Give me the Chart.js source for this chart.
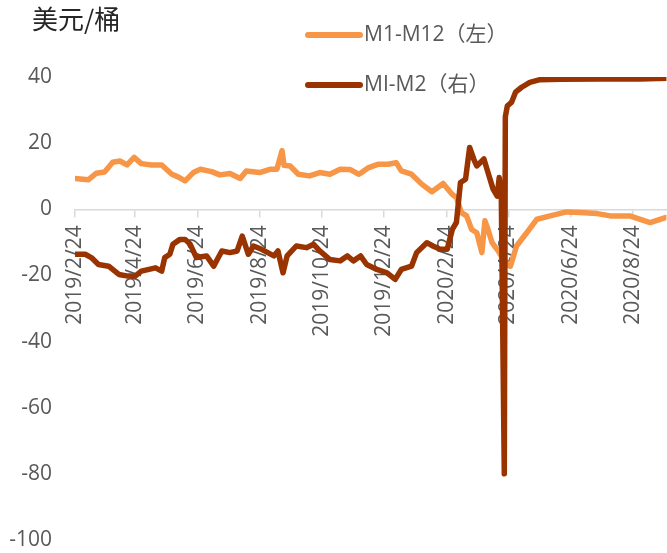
<!DOCTYPE html>
<html>
<head>
<meta charset="utf-8">
<script src="https://cdn.jsdelivr.net/npm/chart.js@4/dist/chart.umd.min.js"></script>
<style>
    html, body { margin: 0; padding: 0; background: #fff; }
</style>
</head>
<body>
<canvas id="myChart" width="667" height="553"></canvas>
<script>
let fechaInicio = "2019-02-24";
let fechaFin = "2020-09-26";
let etiquetasEje = ["2019/2/24", "2019/4/24", "2019/6/24", "2019/8/24", "2019/10/24",
    "2019/12/24", "2020/2/24", "2020/4/24", "2020/6/24", "2020/8/24"];
let nombresSeries = ["M1-M12（左）", "MI-M2（右）"];

let fechasM1M12 = ["2019-02-24", "2019-03-09", "2019-03-17", "2019-03-25", "2019-04-02", "2019-04-09",
    "2019-04-16", "2019-04-23", "2019-04-30", "2019-05-10", "2019-05-20", "2019-05-30", "2019-06-05",
    "2019-06-12", "2019-06-20", "2019-06-27", "2019-07-08", "2019-07-16", "2019-07-26", "2019-08-05",
    "2019-08-11", "2019-08-24", "2019-09-03", "2019-09-10", "2019-09-15", "2019-09-17", "2019-09-23",
    "2019-10-01", "2019-10-12", "2019-10-22", "2019-11-01", "2019-11-11", "2019-11-21", "2019-11-29",
    "2019-12-02", "2019-12-09", "2019-12-18", "2019-12-28", "2020-01-05", "2020-01-10", "2020-01-20",
    "2020-01-30", "2020-02-09", "2020-02-20", "2020-02-29", "2020-03-04", "2020-03-09", "2020-03-14",
    "2020-03-19", "2020-03-24", "2020-03-29", "2020-04-01", "2020-04-04", "2020-04-08", "2020-04-14",
    "2020-04-19", "2020-04-26", "2020-05-02", "2020-05-12", "2020-05-22", "2020-06-04", "2020-06-20",
    "2020-07-03", "2020-07-20", "2020-08-02", "2020-08-21", "2020-09-10", "2020-09-25"];
let valoresM1M12 = [9.3, 8.9, 10.9, 11.3, 14.2, 14.6,
    13.4, 15.7, 13.8, 13.4, 13.4, 10.6, 9.8,
    8.6, 11.1, 12.1, 11.4, 10.4, 10.8, 9.3,
    11.6, 11.1, 12.1, 12.1, 17.7, 13.3, 13.1,
    10.6, 10.1, 11.1, 10.6, 12.1, 12.0, 10.6,
    11.1, 12.6, 13.6, 13.6, 14.1, 11.6, 10.6,
    7.6, 5.3, 7.8, 4.5, 3.5, -1.0, -2.0,
    -6.1, -7.1, -13.1, -3.5, -6.1, -10.1, -12.6,
    -15.2, -17.2, -11.1, -7.1, -3.0, -2.0, -0.8,
    -1.0, -1.3, -2.0, -2.0, -4.0, -2.5];

let fechasMIM2 = ["2019-02-24", "2019-03-06", "2019-03-12", "2019-03-19", "2019-03-29", "2019-04-08",
    "2019-04-17", "2019-04-24", "2019-04-30", "2019-05-14", "2019-05-20", "2019-05-23", "2019-05-28",
    "2019-05-31", "2019-06-07", "2019-06-12", "2019-06-17", "2019-06-23", "2019-07-03", "2019-07-10",
    "2019-07-18", "2019-07-26", "2019-08-02", "2019-08-07", "2019-08-13", "2019-08-18", "2019-08-26",
    "2019-09-07", "2019-09-11", "2019-09-16", "2019-09-20", "2019-09-29", "2019-10-09", "2019-10-16",
    "2019-10-22", "2019-11-01", "2019-11-11", "2019-11-18", "2019-11-24", "2019-12-01", "2019-12-07",
    "2019-12-17", "2019-12-27", "2020-01-04", "2020-01-10", "2020-01-20", "2020-01-25", "2020-02-04",
    "2020-02-10", "2020-02-17", "2020-02-24", "2020-02-29", "2020-03-04", "2020-03-08", "2020-03-13",
    "2020-03-17", "2020-03-21", "2020-03-24", "2020-03-31", "2020-04-04", "2020-04-09", "2020-04-13",
    "2020-04-15", "2020-04-17", "2020-04-20", "2020-04-21", "2020-04-23", "2020-04-27", "2020-05-01",
    "2020-05-07", "2020-05-15", "2020-05-25", "2020-06-14", "2020-07-23", "2020-08-31", "2020-09-27"];
let valoresMIM2 = [-13.6, -13.6, -14.6, -16.7, -17.2, -19.7,
    -20.2, -20.2, -18.7, -17.7, -18.7, -14.6, -13.6,
    -10.6, -9.1, -9.1, -10.6, -14.6, -14.1, -17.2,
    -12.6, -13.1, -12.6, -8.1, -13.6, -11.1, -12.1,
    -14.1, -12.6, -19.2, -14.1, -11.1, -11.6, -10.6,
    -12.6, -15.2, -15.6, -14.1, -15.6, -14.1, -16.7,
    -18.2, -19.2, -21.2, -18.2, -17.2, -13.1, -10.1,
    -11.1, -12.1, -12.1, -6.1, -4.0, 8.1, 9.1,
    18.7, 15.2, 13.1, 15.2, 11.1, 6.1, 4.0,
    9.6, 5.0, -80.0, 28.0, 31.3, 32.3, 35.4,
    36.9, 38.4, 39.2, 39.3, 39.4, 39.4, 39.6];

let colores = ["#F79646", "#993300"];
let fuente = "'Open Sans', 'Noto Sans CJK SC', sans-serif";

// dias desde la fecha de inicio
function dias(fecha) {
    let p = fecha.split(/[-\/]/).map(Number);
    let i = fechaInicio.split("-").map(Number);
    return (Date.UTC(p[0], p[1] - 1, p[2]) - Date.UTC(i[0], i[1] - 1, i[2])) / 86400000;
}

function puntos(fechas, valores) {
    return fechas.map((f, i) => ({ x: dias(f), y: valores[i] }));
}

let diasEje = etiquetasEje.map(dias);

const leyenda = {
    id: "leyenda",
    afterDraw(chart) {
        const ctx = chart.ctx;
        ctx.save();
        chart.data.datasets.forEach((ds, i) => {
            let y = 35 + i * 50;
            ctx.strokeStyle = ds.borderColor;
            ctx.lineWidth = 6;
            ctx.lineCap = "round";
            ctx.beginPath();
            ctx.moveTo(308, y);
            ctx.lineTo(360, y);
            ctx.stroke();
            ctx.fillStyle = "#595959";
            ctx.font = "21px " + fuente;
            ctx.textBaseline = "middle";
            ctx.fillText(ds.label, 364, y);
        });
        ctx.fillStyle = "#262626";
        ctx.font = "26px 'Noto Sans CJK SC', sans-serif";
        ctx.textBaseline = "top";
        ctx.fillText("美元/桶", 32, 6);
        ctx.restore();
    }
};

const conf = {
    type: "line",
    data: {
        datasets: [
            {
                label: nombresSeries[0],
                data: puntos(fechasM1M12, valoresM1M12),
                borderColor: colores[0],
                borderWidth: 5.5,
                order: 1
            },
            {
                label: nombresSeries[1],
                data: puntos(fechasMIM2, valoresMIM2),
                borderColor: colores[1],
                borderWidth: 5.5,
                order: 0
            }
        ]
    },
    options: {
        responsive: false,
        animation: false,
        elements: {
            point: { radius: 0 },
            line: { tension: 0, borderJoinStyle: "round", borderCapStyle: "round" }
        },
        layout: { padding: { top: 77, bottom: 13, left: 0, right: 0 } },
        plugins: {
            legend: { display: false },
            tooltip: { enabled: false }
        },
        scales: {
            x: {
                type: "linear",
                position: { y: 0 },
                min: 0,
                max: dias(fechaFin),
                afterBuildTicks: (scale) => {
                    scale.ticks = diasEje.map(v => ({ value: v }));
                },
                ticks: {
                    autoSkip: false,
                    minRotation: 90,
                    maxRotation: 90,
                    color: "#595959",
                    font: { family: fuente, size: 21 },
                    padding: 9,
                    callback: (v) => etiquetasEje[diasEje.indexOf(v)]
                },
                grid: { drawOnChartArea: false, drawTicks: true, tickLength: 7, color: "#d9d9d9", lineWidth: 1.5 },
                border: { color: "#d9d9d9", width: 1.5 }
            },
            y: {
                min: -100,
                max: 40,
                ticks: {
                    stepSize: 20,
                    color: "#595959",
                    font: { family: fuente, size: 21 },
                    padding: 23
                },
                grid: { display: false, drawTicks: false },
                border: { display: false },
                afterFit: (scale) => {
                    scale.width = 75;
                    scale.paddingTop = 12;
                    scale.paddingBottom = 12;
                }
            }
        }
    },
    plugins: [leyenda]
};

let grafico = new Chart(document.querySelector("#myChart"), conf);
</script>
</body>
</html>
